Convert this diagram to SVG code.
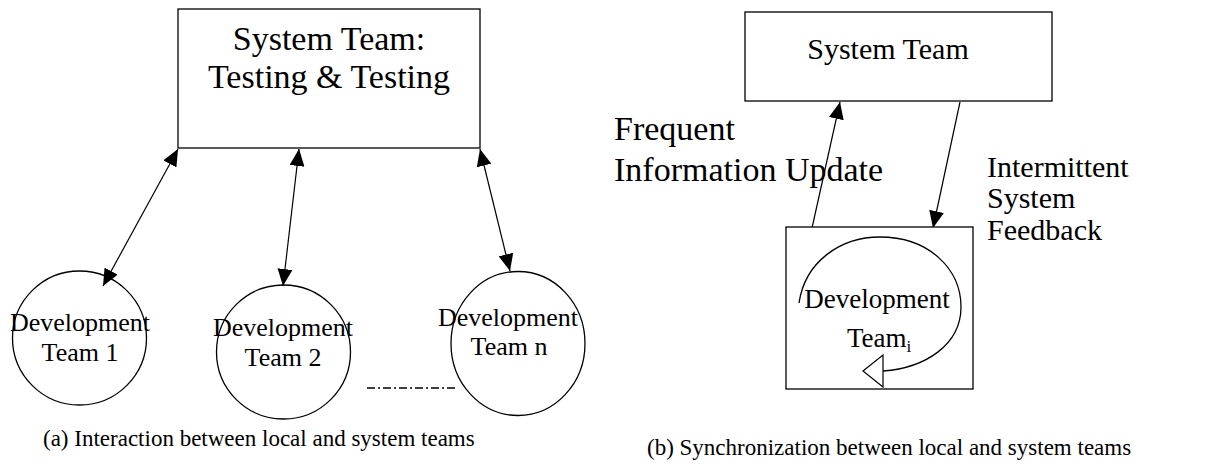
<svg xmlns="http://www.w3.org/2000/svg" width="1218" height="468" viewBox="0 0 1218 468">
<defs>
<style>
text{font-family:"Liberation Serif","Times New Roman",serif;fill:#000}
.box{fill:#fff;stroke:#000;stroke-width:1.3}
.c{fill:none;stroke:#000;stroke-width:1.3}
.ln{stroke:#000;stroke-width:1.2;fill:none}
</style>
<marker id="ah" viewBox="0 0 17 15" refX="17" refY="7.5" markerWidth="17" markerHeight="15" markerUnits="userSpaceOnUse" orient="auto-start-reverse">
<path d="M0,0 L17,7.5 L0,15 Z" fill="#000"/>
</marker>
</defs>
<rect width="1218" height="468" fill="#fff"/>
<g id="connectors">
<line class="ln" x1="178" y1="149" x2="103" y2="286" marker-start="url(#ah)" marker-end="url(#ah)"/>
<line class="ln" x1="299" y1="149" x2="283" y2="286" marker-start="url(#ah)" marker-end="url(#ah)"/>
<line class="ln" x1="480" y1="149" x2="510" y2="271" marker-start="url(#ah)" marker-end="url(#ah)"/>
<line x1="367" y1="388" x2="457" y2="388" stroke="#000" stroke-width="1.6" stroke-dasharray="8 3 2 3"/>
<line class="ln" x1="812" y1="228" x2="840" y2="102" marker-end="url(#ah)"/>
<line class="ln" x1="960" y1="102" x2="933" y2="228" marker-end="url(#ah)"/>
</g>
<g id="system-team-a">
<rect class="box" x="178" y="9" width="302" height="139"/>
<text x="329" y="50" font-size="34" text-anchor="middle">System Team:</text>
<text x="329" y="88" font-size="34" text-anchor="middle">Testing &amp; Testing</text>
</g>
<g id="dev-team-1">
<circle class="c" cx="79.5" cy="338" r="67"/>
<text x="80" y="331" font-size="26" text-anchor="middle">Development</text>
<text x="80" y="361" font-size="26" text-anchor="middle">Team 1</text>
</g>
<g id="dev-team-2">
<circle class="c" cx="283.5" cy="352" r="67"/>
<text x="283" y="336" font-size="26" text-anchor="middle">Development</text>
<text x="283" y="366" font-size="26" text-anchor="middle">Team 2</text>
</g>
<g id="dev-team-n">
<ellipse class="c" cx="518" cy="343.5" rx="67" ry="72"/>
<text x="508" y="326" font-size="26" text-anchor="middle">Development</text>
<text x="509" y="355" font-size="26" text-anchor="middle">Team n</text>
</g>
<text x="43" y="446" font-size="23">(a) Interaction between local and system teams</text>
<g id="system-team-b">
<rect class="box" x="745" y="12" width="307" height="89"/>
<text x="888" y="59" font-size="30" text-anchor="middle">System Team</text>
</g>
<g id="label-frequent">
<text x="614" y="140" font-size="34">Frequent</text>
<text x="614" y="181" font-size="34">Information Update</text>
</g>
<g id="label-intermittent">
<text x="987" y="177" font-size="30">Intermittent</text>
<text x="987" y="208" font-size="30">System</text>
<text x="987" y="240" font-size="30">Feedback</text>
</g>
<g id="dev-team-i">
<rect class="box" x="786" y="227" width="187" height="162"/>
<path class="c" d="M799,303 C805,262 840,237 880,237 C930,237 961,270 961,307 C961,345 925,368 883,371"/>
<path d="M863,371 L883,355 L883,387 Z" fill="#fff" stroke="#000" stroke-width="1.2"/>
<text x="877" y="308" font-size="27" text-anchor="middle">Development</text>
<text x="847" y="347" font-size="27">Team<tspan font-size="17" dy="5">i</tspan></text>
</g>
<text x="647" y="455" font-size="23">(b) Synchronization between local and system teams</text>
</svg>
